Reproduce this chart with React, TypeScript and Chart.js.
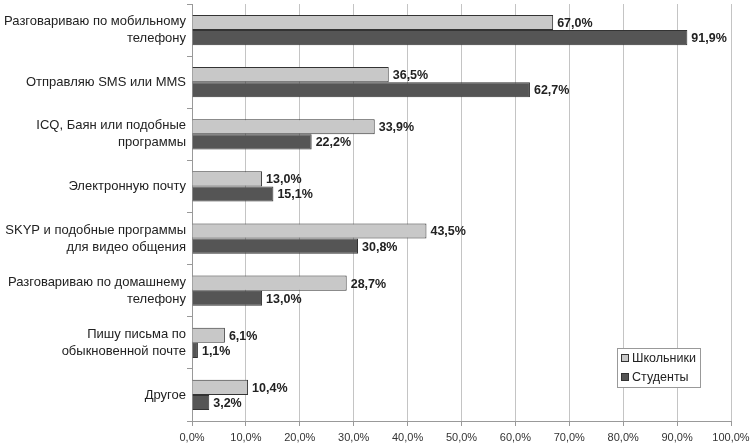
import React, { useEffect, useRef } from "react";
import { Chart, registerables } from "chart.js";

Chart.register(...registerables);

const categories: (string | string[])[] = [
  ["Разговариваю по мобильному", "телефону"],
  "Отправляю SMS или MMS",
  ["ICQ, Баян или подобные", "программы"],
  "Электронную почту",
  ["SKYP и подобные программы", "для видео общения"],
  ["Разговариваю по домашнему", "телефону"],
  ["Пишу письма по", "обыкновенной почте"],
  "Другое",
];
const schoolLabel = "Школьники";
const studentLabel = "Студенты";
const schoolValues = [67.0, 36.5, 33.9, 13.0, 43.5, 28.7, 6.1, 10.4];
const studentValues = [91.9, 62.7, 22.2, 15.1, 30.8, 13.0, 1.1, 3.2];
const xTicks = [0, 10, 20, 30, 40, 50, 60, 70, 80, 90, 100];

const FONT = "'Liberation Sans', Arial, sans-serif";
const fmt = (v: number) => v.toFixed(1).replace(".", ",") + "%";

const valueLabels = {
  id: "valueLabels",
  afterDatasetsDraw(chart: any) {
    const ctx = chart.ctx;
    ctx.save();
    ctx.font = `bold 12.5px ${FONT}`;
    ctx.fillStyle = "#222";
    ctx.textBaseline = "middle";
    ctx.textAlign = "left";
    chart.data.datasets.forEach((ds: any, di: number) => {
      const meta = chart.getDatasetMeta(di);
      meta.data.forEach((el: any, i: number) => {
        ctx.fillText(fmt(ds.data[i]), el.x + 4, el.y + 1);
      });
    });
    ctx.restore();
  },
};

const boxLegend = {
  id: "boxLegend",
  afterDraw(chart: any) {
    const ctx = chart.ctx;
    const x = 617, y = 348, w = 83, h = 39;
    ctx.save();
    ctx.fillStyle = "#fff";
    ctx.fillRect(x, y, w, h);
    ctx.strokeStyle = "#999";
    ctx.lineWidth = 1;
    ctx.strokeRect(x + 0.5, y + 0.5, w, h);
    ctx.font = `12.5px ${FONT}`;
    ctx.textBaseline = "middle";
    chart.data.datasets.forEach((ds: any, i: number) => {
      const cy = y + 10 + i * 19;
      ctx.fillStyle = ds.backgroundColor;
      ctx.fillRect(x + 4, cy - 4, 8, 8);
      ctx.strokeStyle = "#333";
      ctx.strokeRect(x + 4.5, cy - 3.5, 7, 7);
      ctx.fillStyle = "#222";
      ctx.fillText(ds.label, x + 15, cy + 1);
    });
    ctx.restore();
  },
};

export default function App() {
  const ref = useRef<HTMLCanvasElement>(null);
  useEffect(() => {
    document.body.style.margin = "0";
    const chart = new Chart(ref.current!, {
      type: "bar",
      data: {
        labels: categories,
        datasets: [
          {
            label: schoolLabel,
            data: schoolValues,
            backgroundColor: "#c8c8c8",
            borderColor: "#333",
            borderWidth: 1,
            categoryPercentage: 0.578,
            barPercentage: 1,
          },
          {
            label: studentLabel,
            data: studentValues,
            backgroundColor: "#555555",
            borderColor: "#333",
            borderWidth: 1,
            categoryPercentage: 0.578,
            barPercentage: 1,
          },
        ],
      },
      options: {
        indexAxis: "y",
        animation: false,
        responsive: false,
        layout: { padding: { top: 4, left: 0, right: 19, bottom: 0 } },
        plugins: { legend: { display: false }, tooltip: { enabled: false } },
        scales: {
          x: {
            min: 0,
            max: 100,
            afterBuildTicks: (s: any) => {
              s.ticks = xTicks.map((v) => ({ value: v }));
            },
            afterFit: (s: any) => {
              s.height = 24;
              s.paddingLeft = 0;
              s.paddingRight = 0;
            },
            ticks: {
              callback: (v: any) => fmt(Number(v)),
              font: { family: FONT, size: 11 },
              color: "#333",
              padding: 5,
              maxRotation: 0,
            },
            grid: { color: "#c4c4c4", tickLength: 5, tickColor: "#999" },
            border: { color: "#999" },
          },
          y: {
            afterFit: (s: any) => {
              s.width = 192;
              s.paddingTop = 0;
              s.paddingBottom = 0;
            },
            ticks: {
              font: { family: FONT, size: 13, lineHeight: 1.3 },
              color: "#222",
              padding: 1,
            },
            grid: {
              offset: true,
              drawOnChartArea: false,
              tickLength: 5,
              color: "#999",
            },
            border: { color: "#999" },
          },
        },
      },
      plugins: [valueLabels, boxLegend],
    });
    return () => chart.destroy();
  }, []);
  return (
    <div style={{ width: 750, height: 445 }}>
      <canvas ref={ref} width={750} height={445} />
    </div>
  );
}
